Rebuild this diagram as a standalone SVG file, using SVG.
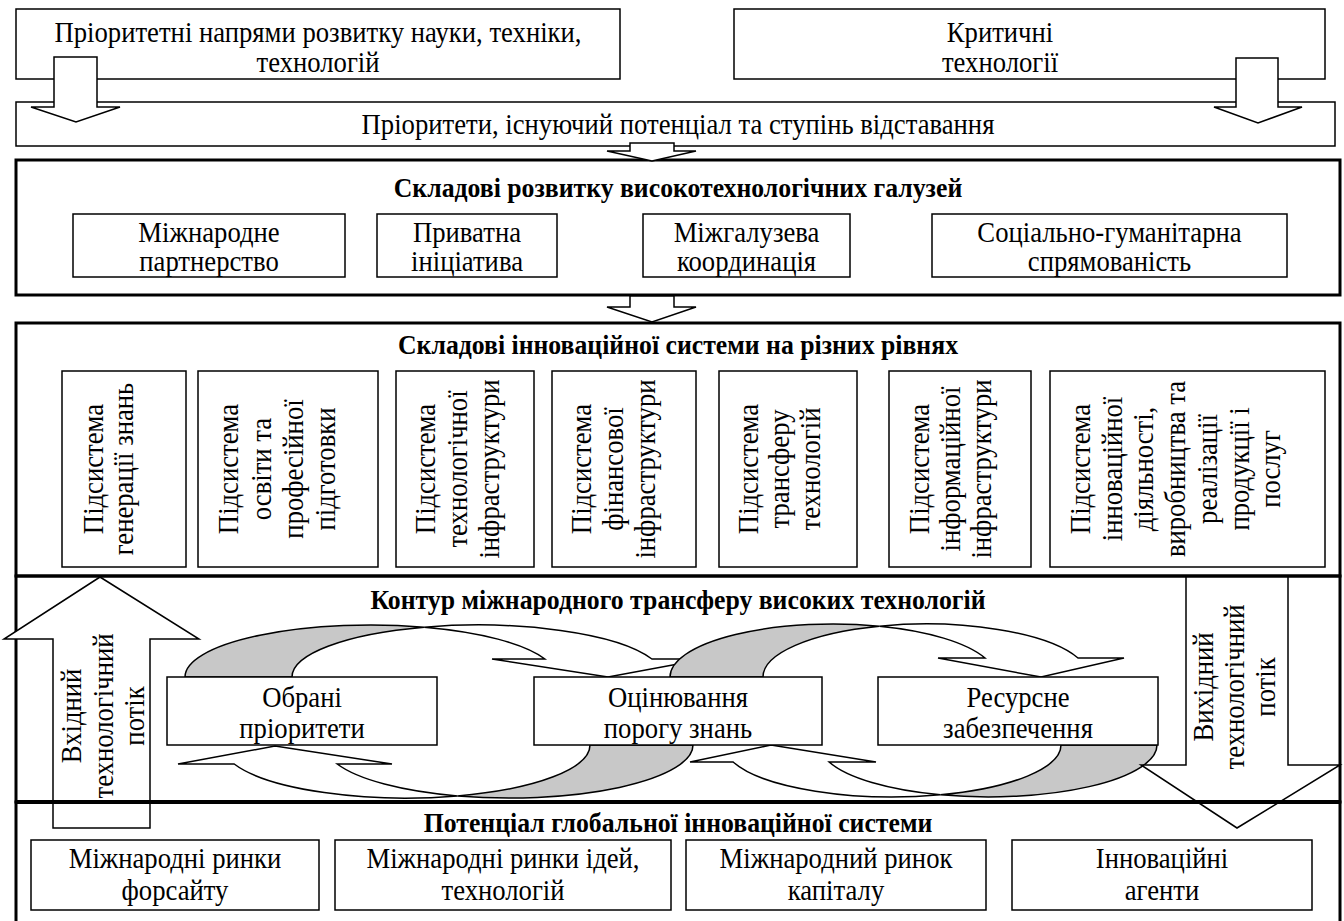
<svg xmlns="http://www.w3.org/2000/svg" width="1344" height="921" viewBox="0 0 1344 921">
<style>
.t{font-family:"Liberation Serif","Times New Roman","DejaVu Serif",serif;font-size:29px;fill:#000;text-anchor:middle;dominant-baseline:central}
.b{font-weight:bold;font-size:28px}
.box{fill:#fff;stroke:#000;stroke-width:1.5}
.big{fill:none;stroke:#000;stroke-width:3}
.div{stroke:#000;stroke-width:4}
.arr{fill:#fff;stroke:#000;stroke-width:1.5;stroke-linejoin:miter}
.back{fill:#c8c8c8;stroke:#000;stroke-width:1.5}
.front{fill:#fff;stroke:#000;stroke-width:1.5}
</style>
<rect width="1344" height="921" fill="#fff"/>

<g id="priority-directions">
<rect class="box" x="16" y="9" width="604" height="70"/>
<text class="t" transform="translate(318,32) scale(0.92,1)"><tspan x="0" y="0">Пріоритетні напрями розвитку науки, техніки,</tspan><tspan x="0" y="30">технологій</tspan></text>
</g>
<g id="critical-technologies">
<rect class="box" x="734" y="9" width="591" height="70"/>
<text class="t" transform="translate(1000,32) scale(0.92,1)"><tspan x="0" y="0">Критичні</tspan><tspan x="0" y="30">технології</tspan></text>
</g>
<g id="priorities-potential">
<rect class="box" x="16" y="102" width="1319" height="44"/>
<text class="t" transform="translate(678,124) scale(0.92,1)">Пріоритети, існуючий потенціал та ступінь відставання</text>
</g>

<g id="hightech-components">
<rect class="big" x="16" y="160" width="1324" height="135"/>
<text class="t b" transform="translate(678,188) scale(0.92,1)">Складові розвитку високотехнологічних галузей</text>
<g id="intl-partnership"><rect class="box" x="73" y="214" width="272" height="63"/><text class="t" transform="translate(209,232) scale(0.92,1)"><tspan x="0" y="0">Міжнародне</tspan><tspan x="0" y="29">партнерство</tspan></text></g>
<g id="private-initiative"><rect class="box" x="377" y="214" width="180" height="63"/><text class="t" transform="translate(467,232) scale(0.92,1)"><tspan x="0" y="0">Приватна</tspan><tspan x="0" y="29">ініціатива</tspan></text></g>
<g id="intersectoral"><rect class="box" x="643" y="214" width="207" height="63"/><text class="t" transform="translate(746.5,232) scale(0.92,1)"><tspan x="0" y="0">Міжгалузева</tspan><tspan x="0" y="29">координація</tspan></text></g>
<g id="social"><rect class="box" x="932" y="214" width="355" height="63"/><text class="t" transform="translate(1109.5,232) scale(0.92,1)"><tspan x="0" y="0">Соціально-гуманітарна</tspan><tspan x="0" y="29">спрямованість</tspan></text></g>
</g>

<g id="innovation-system">
<rect class="big" x="16" y="323" width="1324" height="253"/>
<text class="t b" transform="translate(678,345) scale(0.92,1)">Складові інноваційної системи на різних рівнях</text>
<g id="sub1"><rect class="box" x="62" y="371" width="124" height="196"/>
<text class="t" transform="translate(93,469) rotate(-90) scale(0.92,1)"><tspan x="0" y="0">Підсистема</tspan><tspan x="0" y="30">генерації знань</tspan></text></g>
<g id="sub2"><rect class="box" x="198" y="371" width="180" height="196"/>
<text class="t" transform="translate(228,469) rotate(-90) scale(0.92,1)"><tspan x="0" y="0">Підсистема</tspan><tspan x="0" y="33">освіти та</tspan><tspan x="0" y="65">професійної</tspan><tspan x="0" y="97">підготовки</tspan></text></g>
<g id="sub3"><rect class="box" x="396" y="371" width="138" height="196"/>
<text class="t" transform="translate(425,469) rotate(-90) scale(0.92,1)"><tspan x="0" y="0">Підсистема</tspan><tspan x="0" y="32">технологічної</tspan><tspan x="0" y="64">інфраструктури</tspan></text></g>
<g id="sub4"><rect class="box" x="552" y="371" width="144" height="196"/>
<text class="t" transform="translate(581,469) rotate(-90) scale(0.92,1)"><tspan x="0" y="0">Підсистема</tspan><tspan x="0" y="32">фінансової</tspan><tspan x="0" y="64">інфраструктури</tspan></text></g>
<g id="sub5"><rect class="box" x="719" y="371" width="138" height="196"/>
<text class="t" transform="translate(748,469) rotate(-90) scale(0.92,1)"><tspan x="0" y="0">Підсистема</tspan><tspan x="0" y="31">трансферу</tspan><tspan x="0" y="62">технологій</tspan></text></g>
<g id="sub6"><rect class="box" x="889" y="371" width="142" height="196"/>
<text class="t" transform="translate(919,469) rotate(-90) scale(0.92,1)"><tspan x="0" y="0">Підсистема</tspan><tspan x="0" y="31">інформаційної</tspan><tspan x="0" y="62">інфраструктури</tspan></text></g>
<g id="sub7"><rect class="box" x="1050" y="371" width="275" height="196"/>
<text class="t" transform="translate(1080,469) rotate(-90) scale(0.92,1)"><tspan x="0" y="0">Підсистема</tspan><tspan x="0" y="31.5">інноваційної</tspan><tspan x="0" y="63">діяльності,</tspan><tspan x="0" y="95">виробництва та</tspan><tspan x="0" y="127">реалізації</tspan><tspan x="0" y="158.5">продукції і</tspan><tspan x="0" y="190">послуг</tspan></text></g>
</g>

<g id="transfer-contour">
<rect class="big" x="16" y="576" width="1324" height="226"/>
<text class="t b" transform="translate(678,600) scale(0.92,1)">Контур міжнародного трансферу високих технологій</text>
</g>

<g id="global-potential">
<rect class="big" x="16" y="802" width="1324" height="140"/>
<text class="t b" transform="translate(678,823) scale(0.92,1)">Потенціал глобальної інноваційної системи</text>
<g id="foresight"><rect class="box" x="31" y="840" width="288" height="70"/><text class="t" transform="translate(175,858) scale(0.92,1)"><tspan x="0" y="0">Міжнародні ринки</tspan><tspan x="0" y="32">форсайту</tspan></text></g>
<g id="ideas"><rect class="box" x="335" y="840" width="336" height="70"/><text class="t" transform="translate(503,858) scale(0.92,1)"><tspan x="0" y="0">Міжнародні ринки ідей,</tspan><tspan x="0" y="32">технологій</tspan></text></g>
<g id="capital"><rect class="box" x="686" y="840" width="300" height="70"/><text class="t" transform="translate(836,858) scale(0.92,1)"><tspan x="0" y="0">Міжнародний ринок</tspan><tspan x="0" y="32">капіталу</tspan></text></g>
<g id="agents"><rect class="box" x="1012" y="840" width="300" height="70"/><text class="t" transform="translate(1162,858) scale(0.92,1)"><tspan x="0" y="0">Інноваційні</tspan><tspan x="0" y="32">агенти</tspan></text></g>
</g>

<g id="connectors">
<polygon class="arr" points="54,57 97,57 97,107 120,107 76,122 31,107 54,107"/>
<polygon class="arr" points="1236,58 1278,58 1278,107 1302,107 1258,123 1214,107 1236,107"/>
<polygon class="arr" points="630,143 674,143 674,151 696,151 652,161 607,151 630,151"/>
<polygon class="arr" points="630,296 674,296 674,307 696,307 652,322 607,307 630,307"/>
<path class="back" d="M185,677 A185.7,52 0 0 1 424.2,627.2 A185.7,52 0 0 0 292,677 Z"/>
<path class="front" d="M424.2,627.2 A185.7,52 0 0 1 544.9,659 L492,659 L608,677 L705,659 L651.9,659 A185.7,52 0 0 0 424.2,627.2 Z"/>
<path class="back" d="M670,677 A162.9,53 0 0 1 879.4,626.2 A162.9,53 0 0 0 763,677 Z"/>
<path class="front" d="M879.4,626.2 A162.9,53 0 0 1 985,658 L938,658 L1041,677 L1124,658 L1078,658 A162.9,53 0 0 0 879.4,626.2 Z"/>
<path class="back" d="M590,745 A184,53 0 0 1 457.5,795.9 A184,53 0 0 0 693,745 Z"/>
<path class="front" d="M457.5,795.9 A184,53 0 0 1 234.2,764 L178,764 L275,746 L392,764 L337.2,764 A184,53 0 0 0 457.5,795.9 Z"/>
<path class="back" d="M1061,745 A168.6,52 0 0 1 940.4,794.8 A168.6,52 0 0 0 1157,745 Z"/>
<path class="front" d="M940.4,794.8 A168.6,52 0 0 1 733.1,762 L690,762 L771,745 L876,762 L829.1,762 A168.6,52 0 0 0 940.4,794.8 Z"/>
<polygon class="arr" points="100,577 199,639 150,639 150,828 53,828 53,639 4,639"/>
<polygon class="arr" points="1186,577 1288,577 1288,765 1340,765 1237,828 1141,765 1186,765"/>
<line class="div" x1="16" y1="802" x2="1340" y2="802"/>
<text class="t" transform="translate(71,716) rotate(-90) scale(0.92,1)"><tspan x="0" y="0">Вхідний</tspan><tspan x="0" y="31.5">технологічний</tspan><tspan x="0" y="63">потік</tspan></text>
<text class="t" transform="translate(1203,687) rotate(-90) scale(0.92,1)"><tspan x="0" y="0">Вихідний</tspan><tspan x="0" y="31">технологічний</tspan><tspan x="0" y="62">потік</tspan></text>
</g>

<g id="stage-boxes">
<g id="chosen-priorities"><rect class="box" x="167" y="677" width="270" height="68"/><text class="t" transform="translate(302,697) scale(0.92,1)"><tspan x="0" y="0">Обрані</tspan><tspan x="0" y="31">пріоритети</tspan></text></g>
<g id="knowledge-threshold"><rect class="box" x="534" y="677" width="288" height="68"/><text class="t" transform="translate(678,697) scale(0.92,1)"><tspan x="0" y="0">Оцінювання</tspan><tspan x="0" y="31">порогу знань</tspan></text></g>
<g id="resources"><rect class="box" x="878" y="677" width="280" height="68"/><text class="t" transform="translate(1018,697) scale(0.92,1)"><tspan x="0" y="0">Ресурсне</tspan><tspan x="0" y="31">забезпечення</tspan></text></g>
</g>
</svg>
